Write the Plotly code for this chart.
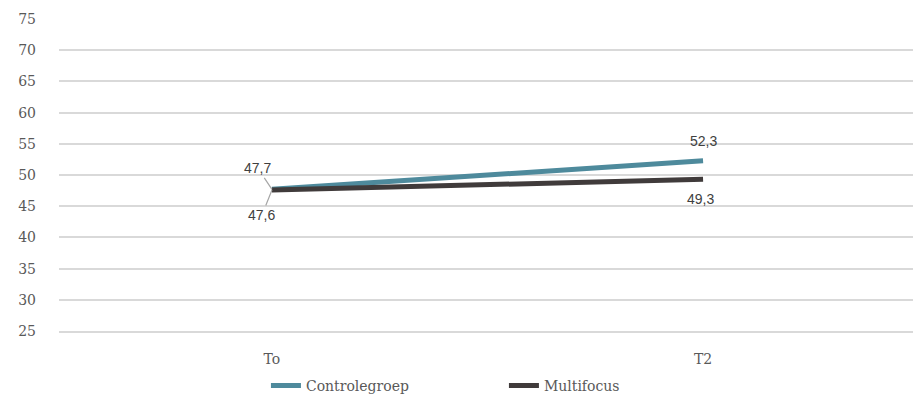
import plotly.graph_objects as go

categories = ["T0", "T2"]
tick_labels = ["To", "T2"]
series_names = ["Controlegroep", "Multifocus"]
controle = [47.7, 52.3]
multifocus = [47.6, 49.3]
y_ticks = [25, 30, 35, 40, 45, 50, 55, 60, 65, 70, 75]

colors = ["#4E8A9C", "#403B3B"]
serif = "DejaVu Serif"
sans = "Liberation Sans"

fig = go.Figure()
for name, vals, col in zip(series_names, [controle, multifocus], colors):
    fig.add_trace(go.Scatter(x=categories, y=vals, mode="lines", name=name,
                             line=dict(color=col, width=5)))

def fmt(v):
    return f"{v:.1f}".replace(".", ",")

lab_font = dict(family=sans, size=14, color="#404040")
# T0 labels with leader lines
fig.add_annotation(x=categories[0], y=controle[0], text=fmt(controle[0]), showarrow=True,
                   arrowhead=0, arrowwidth=1.2, arrowcolor="#A6A6A6", ax=-14, ay=-21,
                   font=lab_font, standoff=0)
fig.add_annotation(x=categories[0], y=multifocus[0], text=fmt(multifocus[0]), showarrow=True,
                   arrowhead=0, arrowwidth=1.2, arrowcolor="#A6A6A6", ax=-10, ay=25,
                   font=lab_font, standoff=0)
# T2 labels
fig.add_annotation(x=categories[1], y=controle[1], text=fmt(controle[1]), showarrow=False,
                   yshift=20, font=lab_font)
fig.add_annotation(x=categories[1], y=multifocus[1], text=fmt(multifocus[1]), showarrow=False,
                   yshift=-20, xshift=-3, font=lab_font)

fig.update_layout(
    width=913, height=396,
    margin=dict(l=59, r=0, t=19, b=65, autoexpand=False),
    plot_bgcolor="white", paper_bgcolor="white",
    font=dict(family=serif, size=14, color="#595959"),
    showlegend=True,
    legend=dict(orientation="h", x=0.521, xanchor="center", y=-0.176, yanchor="middle",
                font=dict(family=serif, size=14, color="#595959"), entrywidth=193),
    xaxis=dict(range=[-0.494, 1.487], tickmode="array", tickvals=categories, ticktext=tick_labels,
               showgrid=False, showline=True, linecolor="#D9D9D9", linewidth=1.5,
               zeroline=False, ticks="", ticklabelstandoff=14),
    yaxis=dict(range=[25, 75], tickvals=y_ticks, showgrid=True, gridcolor="#D9D9D9",
               gridwidth=1.5, zeroline=False, showline=False, ticks="", ticklabelstandoff=22),
)

fig.write_html("out.html")
